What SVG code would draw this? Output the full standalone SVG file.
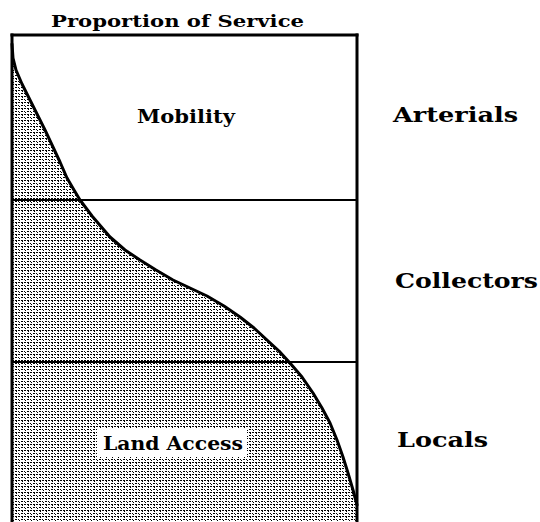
<svg xmlns="http://www.w3.org/2000/svg" width="540" height="522" viewBox="0 0 540 522">
<style>
.lbl{font-family:"DejaVu Serif","Liberation Serif",serif;font-weight:bold;fill:#000}
.frame{stroke:#000;stroke-width:3;fill:none;stroke-linecap:square}
.div{stroke:#000;stroke-width:2;fill:none}
.curve{stroke:#000;stroke-width:3;fill:none;stroke-linejoin:round;stroke-linecap:round}
</style>
<defs>
<pattern id="stip" patternUnits="userSpaceOnUse" width="6" height="6">
<rect x="0" y="0" width="6" height="6" fill="#fff"/>
<rect x="0" y="0" width="2" height="1" fill="#000"/>
<rect x="3" y="0" width="2" height="1" fill="#000"/>
<rect x="0" y="3" width="1" height="1" fill="#000"/>
<rect x="3" y="3" width="2" height="1" fill="#000"/>
<rect x="4" y="1" width="1" height="1" fill="#000"/>
<rect x="1" y="4" width="1" height="1" fill="#000"/>
</pattern>
</defs>
<rect width="540" height="522" fill="#fff"/>
<g id="shade">
<polygon fill="url(#stip)" points="12,44 13,58 16,70 22,84 30,100 45,130 60,162 67,178 74,190 80,200 92,216 110,237 125,250 140,260 156,270 173,280 190,288 207,296 224,306 240,317 254,328 267,340 279,351 290,363 302,377 313,393 322,408 330,423 337,440 343,457 348,473 353,490 357,505 357,522 12,522"/>
<rect x="97" y="429" width="150" height="28" fill="#fff"/>
</g>
<g id="frame">
<line class="frame" x1="12" y1="35" x2="357" y2="35"/>
<line class="frame" x1="12" y1="35" x2="12" y2="524"/>
<line class="frame" x1="357" y1="35" x2="357" y2="524"/>
<line class="div" x1="12" y1="200" x2="357" y2="200"/>
<line class="div" x1="12" y1="362" x2="357" y2="362"/>
</g>
<g id="curve">
<polyline class="curve" points="12,44 13,58 16,70 22,84 30,100 45,130 60,162 67,178 74,190 80,200 92,216 110,237 125,250 140,260 156,270 173,280 190,288 207,296 224,306 240,317 254,328 267,340 279,351 290,363 302,377 313,393 322,408 330,423 337,440 343,457 348,473 353,490 357,505"/>
</g>
<g id="title"><text class="lbl" x="51" y="27" font-size="17" textLength="253" lengthAdjust="spacingAndGlyphs">Proportion of Service</text></g>
<g id="mobility"><text class="lbl" x="137" y="123" font-size="18" textLength="98" lengthAdjust="spacingAndGlyphs">Mobility</text></g>
<g id="land-access"><text class="lbl" x="103" y="450" font-size="18" textLength="140" lengthAdjust="spacingAndGlyphs">Land Access</text></g>
<g id="arterials"><text class="lbl" x="393" y="122" font-size="20" textLength="125" lengthAdjust="spacingAndGlyphs">Arterials</text></g>
<g id="collectors"><text class="lbl" x="395" y="288" font-size="20" textLength="143" lengthAdjust="spacingAndGlyphs">Collectors</text></g>
<g id="locals"><text class="lbl" x="397" y="447" font-size="20" textLength="91" lengthAdjust="spacingAndGlyphs">Locals</text></g>
</svg>
